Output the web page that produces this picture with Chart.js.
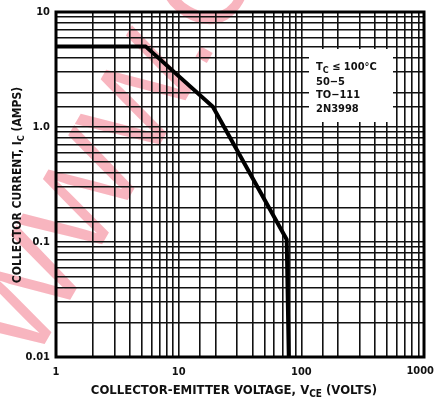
<!DOCTYPE html>
<html>
<head>
<meta charset="utf-8">
<script src="https://cdn.jsdelivr.net/npm/chart.js@4"></script>
<style>
  html, body { margin: 0; padding: 0; background: #fff; }
  #wrap { width: 436px; height: 404px; }
</style>
</head>
<body>
<div id="wrap"><canvas id="soa"></canvas></div>
<script>
  // safe operating area curve
  const voltage = [1, 5.4, 19, 76, 79];
  const current = [5, 5, 1.5, 0.105, 0.01];
  const xLabels = { 1: "1", 10: "10", 100: "100", 1000: "1000" };
  const yLabels = { 10: "10", 1: "1.0", 0.1: "0.1", 0.01: "0.01" };
  const noteLines = ["50\u22125", "TO\u2212111", "2N3998"];

  const FONT = '"DejaVu Sans Condensed", "DejaVu Sans", sans-serif';
  const X_MAX = 1000;

  function isDecade(v) {
    const l = Math.log10(v);
    return Math.abs(l - Math.round(l)) < 1e-6;
  }

  function labelFor(map, v) {
    if (!isDecade(v)) return "";
    const key = Math.pow(10, Math.round(Math.log10(v)));
    for (const k in map) {
      if (Math.abs(parseFloat(k) - key) < key * 1e-6) return map[k];
    }
    return "";
  }

  // draws text made of [text, isSubscript] parts
  function drawParts(ctx, parts, x, y, size, align) {
    const big = "bold " + size + "px " + FONT;
    const small = "bold " + Math.round(size * 0.78) + "px " + FONT;
    let total = 0;
    parts.forEach(p => {
      ctx.font = p[1] ? small : big;
      total += ctx.measureText(p[0]).width;
    });
    let cx = align === "left" ? x : x - total / 2;
    ctx.textAlign = "left";
    ctx.textBaseline = "middle";
    parts.forEach(p => {
      ctx.font = p[1] ? small : big;
      ctx.fillText(p[0], cx, p[1] ? y + size * 0.3 : y);
      cx += ctx.measureText(p[0]).width;
    });
  }

  const decor = {
    id: "decor",
    beforeDraw(chart) {
      const ctx = chart.ctx;
      ctx.save();
      ctx.fillStyle = "#fff";
      ctx.fillRect(0, 0, chart.width, chart.height);
      // watermark
      ctx.translate(32, 366);
      ctx.rotate(-60 * Math.PI / 180);
      ctx.fillStyle = "rgba(242, 120, 138, 0.55)";
      ctx.font = "122px \"Liberation Sans\", sans-serif";
      ctx.textBaseline = "alphabetic";
      ctx.fillText("WWW.C", 0, 0);
      ctx.restore();
    },
    beforeDatasetsDraw(chart) {
      const ctx = chart.ctx;
      ctx.save();
      ctx.fillStyle = "#fff";
      ctx.fillRect(309, 49, 84, 73);
      ctx.fillStyle = "#111";
      drawParts(ctx, [["T", false], ["C", true], [" \u2264 100\u00b0C", false]], 316, 67, 11, "left");
      noteLines.forEach((t, i) => {
        drawParts(ctx, [[t, false]], 316, 82 + i * 13.5, 11, "left");
      });
      ctx.restore();
    },
    afterDraw(chart) {
      const ctx = chart.ctx;
      const a = chart.chartArea;
      ctx.save();
      ctx.strokeStyle = "#000";
      ctx.lineWidth = 3;
      ctx.strokeRect(a.left, a.top, a.right - a.left, a.bottom - a.top);
      ctx.fillStyle = "#111";

      // last x label would run off the canvas, so keep it inside
      const xs = chart.scales.x;
      ctx.font = "bold 11px " + FONT;
      const last = xLabels[X_MAX];
      const w = ctx.measureText(last).width;
      const px = Math.min(xs.getPixelForValue(X_MAX) + w / 2, chart.width - 2);
      ctx.textAlign = "right";
      ctx.textBaseline = "top";
      ctx.fillText(last, px, a.bottom + 9);

      drawParts(ctx, [["COLLECTOR-EMITTER VOLTAGE, V", false], ["CE", true], [" (VOLTS)", false]],
        234, 391, 13, "center");
      ctx.translate(18, 185);
      ctx.rotate(-Math.PI / 2);
      drawParts(ctx, [["COLLECTOR CURRENT, I", false], ["C", true], [" (AMPS)", false]], 0, 0, 12, "center");
      ctx.restore();
    }
  };

  const points = voltage.map((v, i) => ({ x: v, y: current[i] }));

  new Chart(document.getElementById("soa"), {
    type: "line",
    data: {
      datasets: [{
        data: points,
        borderColor: "#000",
        borderWidth: 4,
        pointRadius: 0,
        tension: 0,
        borderJoinStyle: "round",
        fill: false
      }]
    },
    options: {
      responsive: true,
      maintainAspectRatio: false,
      animation: false,
      layout: { padding: { top: 12, right: 0, left: 0, bottom: 0 } },
      plugins: { legend: { display: false }, tooltip: { enabled: false } },
      scales: {
        x: {
          type: "logarithmic",
          min: 1,
          max: X_MAX,
          afterFit: s => { s.height = 47; s.paddingRight = 12; s.paddingLeft = 0; },
          border: { display: false },
          grid: { color: "#111", lineWidth: 1.6, drawTicks: false },
          ticks: {
            autoSkip: false,
            maxRotation: 0,
            padding: 9,
            color: "#111",
            font: { family: FONT, size: 11, weight: "bold" },
            callback: v => (v >= X_MAX ? "" : labelFor(xLabels, v))
          }
        },
        y: {
          type: "logarithmic",
          min: 0.01,
          max: 10,
          afterFit: s => { s.width = 56; s.paddingTop = 0; s.paddingBottom = 0; },
          border: { display: false },
          grid: { color: "#111", lineWidth: 1.6, drawTicks: false },
          ticks: {
            autoSkip: false,
            padding: 6,
            color: "#111",
            font: { family: FONT, size: 11, weight: "bold" },
            callback: v => labelFor(yLabels, v)
          }
        }
      }
    },
    plugins: [decor]
  });
</script>
</body>
</html>
